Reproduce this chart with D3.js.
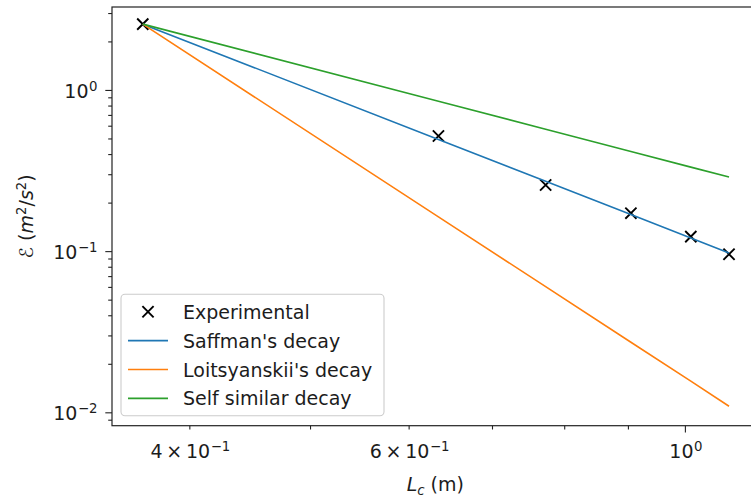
<!DOCTYPE html>
<html>
<head>
<meta charset="utf-8">
<script src="https://cdn.jsdelivr.net/npm/d3@7/dist/d3.min.js"></script>
<style>
  html, body { margin: 0; padding: 0; background: #fff; }
  svg { display: block; font-family: "DejaVu Sans", sans-serif; }
</style>
</head>
<body>
<svg id="chart" width="751" height="501"></svg>
<script>
// Turbulent kinetic energy vs. integral length scale (log-log)
const lengthScale   = [0.367, 0.634, 0.773, 0.905, 1.011, 1.085];   // L_c (m)
const experimental  = [2.56, 0.518, 0.257, 0.172, 0.123, 0.0957];    // measured energy
const saffman       = [2.56, 0.493, 0.271, 0.1685, 0.1208, 0.0975];
const loitsyanskii  = [2.56, 0.163, 0.0602, 0.0272, 0.0156, 0.0109];
const selfSimilar   = [2.56, 0.850, 0.571, 0.415, 0.332, 0.288];

const seriesNames   = ["Experimental", "Saffman's decay", "Loitsyanskii's decay", "Self similar decay"];
const seriesColors  = ["#000000", "#1f77b4", "#ff7f0e", "#2ca02c"];

const xDomain = [0.3467, 1.146];
const yDomain = [0.00826, 3.27];

const xMinorTicks = [0.4, 0.5, 0.6, 0.7, 0.8, 0.9];
const xMajorTicks = [1];
const xTickLabels = [
  { v: 0.4, base: "4\u2009×\u200910", exp: "\u22121" },
  { v: 0.6, base: "6\u2009×\u200910", exp: "\u22121" },
  { v: 1.0, base: "10", exp: "0" }
];
const yMajorTicks = [0.01, 0.1, 1];
const yMinorTicks = [];
[0.001, 0.01, 0.1, 1].forEach(d => { for (let k = 2; k <= 9; k++) yMinorTicks.push(+(d * k).toPrecision(3)); });
const yTickLabels = [
  { v: 0.01, base: "10", exp: "\u22122" },
  { v: 0.1,  base: "10", exp: "\u22121" },
  { v: 1,    base: "10", exp: "0" }
];

const mLeft = 112, mTop = 7, plotW = 646.6, plotH = 418.7;
const fs = 19, fsSup = 13.3;
const textColor = "#1c1c1c";

const svg = d3.select("#chart");
const x = d3.scaleLog().domain(xDomain).range([mLeft, mLeft + plotW]);
const y = d3.scaleLog().domain(yDomain).range([mTop + plotH, mTop]);

svg.append("defs").append("clipPath").attr("id", "plotClip")
  .append("rect").attr("x", mLeft).attr("y", mTop).attr("width", plotW).attr("height", plotH);

const plot = svg.append("g").attr("clip-path", "url(#plotClip)");

// Experimental points as 'x' markers
const cross = (g, cx, cy, r, color) => {
  g.append("path")
    .attr("d", `M${cx - r},${cy - r}L${cx + r},${cy + r}M${cx - r},${cy + r}L${cx + r},${cy - r}`)
    .attr("stroke", color).attr("stroke-width", 1.9).attr("fill", "none");
};
lengthScale.forEach((lx, i) => cross(plot, x(lx), y(experimental[i]), 5.6, seriesColors[0]));

// Model decay lines
const line = d3.line().x(d => x(d[0])).y(d => y(d[1]));
[saffman, loitsyanskii, selfSimilar].forEach((vals, i) => {
  plot.append("path")
    .datum(lengthScale.map((lx, j) => [lx, vals[j]]))
    .attr("d", line)
    .attr("fill", "none")
    .attr("stroke", seriesColors[i + 1])
    .attr("stroke-width", 1.6);
});

// Axes ticks
const axisBottom = svg.append("g").attr("transform", `translate(0,${mTop + plotH})`);
axisBottom.call(d3.axisBottom(x).tickValues(xMinorTicks).tickSize(3.8).tickFormat("").tickSizeOuter(0));
const axisBottomMajor = svg.append("g").attr("transform", `translate(0,${mTop + plotH})`);
axisBottomMajor.call(d3.axisBottom(x).tickValues(xMajorTicks).tickSize(6.7).tickFormat("").tickSizeOuter(0));

const axisLeftMinor = svg.append("g").attr("transform", `translate(${mLeft},0)`);
axisLeftMinor.call(d3.axisLeft(y).tickValues(yMinorTicks.filter(v => v >= yDomain[0] && v <= yDomain[1])).tickSize(3.8).tickFormat("").tickSizeOuter(0));
const axisLeftMajor = svg.append("g").attr("transform", `translate(${mLeft},0)`);
axisLeftMajor.call(d3.axisLeft(y).tickValues(yMajorTicks).tickSize(6.7).tickFormat("").tickSizeOuter(0));

svg.selectAll(".domain").remove();
svg.selectAll(".tick line").attr("stroke", "#222").attr("stroke-width", 1.1);

// Frame
svg.append("rect")
  .attr("x", mLeft).attr("y", mTop).attr("width", plotW).attr("height", plotH)
  .attr("fill", "none").attr("stroke", "#222").attr("stroke-width", 1.2);

// Tick labels with superscript exponents
const supLabel = (g, tx, ty, anchor, d) => {
  const t = g.append("text").attr("x", tx).attr("y", ty).attr("text-anchor", anchor)
    .attr("font-size", fs).attr("fill", textColor);
  t.append("tspan").text(d.base);
  t.append("tspan").attr("font-size", fsSup).attr("dy", -7.3).attr("dx", 0.5).text(d.exp);
};
xTickLabels.forEach(d => supLabel(svg, x(d.v) + 1, mTop + plotH + 32.5, "middle", d));
yTickLabels.forEach(d => supLabel(svg, mLeft - 14.5, y(d.v) + 8, "end", d));

// Axis titles
const xt = svg.append("text").attr("x", mLeft + plotW / 2).attr("y", 491)
  .attr("text-anchor", "middle").attr("font-size", fs).attr("fill", textColor);
xt.append("tspan").attr("font-style", "italic").text("L");
xt.append("tspan").attr("font-style", "italic").attr("font-size", fsSup).attr("dy", 4).text("c");
xt.append("tspan").attr("dy", -4).text(" (m)");

const yt = svg.append("text")
  .attr("transform", `translate(33,${mTop + plotH / 2}) rotate(-90)`)
  .attr("text-anchor", "middle").attr("font-size", fs).attr("fill", textColor);
yt.append("tspan").text("ℰ (");
yt.append("tspan").attr("font-style", "italic").text("m");
yt.append("tspan").attr("font-size", fsSup).attr("dy", -7).text("2");
yt.append("tspan").attr("dy", 7).text("/");
yt.append("tspan").attr("font-style", "italic").text("s");
yt.append("tspan").attr("font-size", fsSup).attr("dy", -7).text("2");
yt.append("tspan").attr("dy", 7).text(")");

// Legend (lower left)
const lg = svg.append("g");
lg.append("rect")
  .attr("x", 121).attr("y", 294.3).attr("width", 263).attr("height", 121.4)
  .attr("rx", 4).attr("fill", "#fff").attr("fill-opacity", 0.8)
  .attr("stroke", "#cccccc").attr("stroke-width", 1.1);
const rowY = i => 311.7 + i * 28.9;
seriesNames.forEach((name, i) => {
  const cy = rowY(i);
  if (i === 0) {
    cross(lg, 148, cy, 5.6, seriesColors[0]);
  } else {
    lg.append("line").attr("x1", 128).attr("x2", 168).attr("y1", cy).attr("y2", cy)
      .attr("stroke", seriesColors[i]).attr("stroke-width", 1.6);
  }
  lg.append("text").attr("x", 183).attr("y", cy + 7).attr("font-size", fs).attr("fill", textColor).text(name);
});
</script>
</body>
</html>
